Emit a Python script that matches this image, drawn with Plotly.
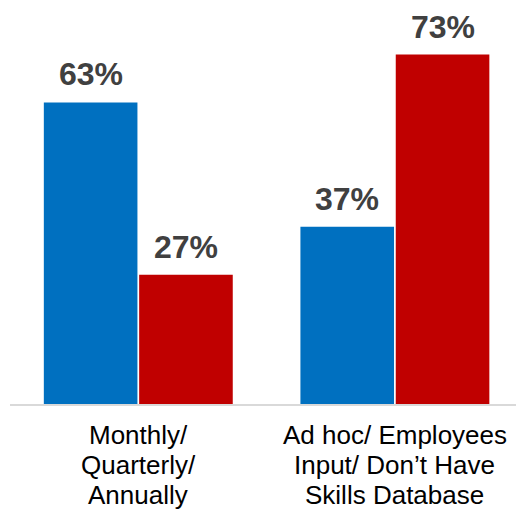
import plotly.graph_objects as go

# Survey results: how often the skills inventory is refreshed
category_lines = [
    ["Monthly/", "Quarterly/", "Annually"],
    ["Ad hoc/ Employees", "Input/ Don\u2019t Have", "Skills Database"],
]
categories = [" ".join(lines) for lines in category_lines]
series_a = [63, 37]   # blue series
series_b = [27, 73]   # red series

BLUE = "#0070C0"
RED = "#C00000"
FONT = "Arial, Liberation Sans, sans-serif"

fig = go.Figure()
fig.add_trace(go.Bar(x=categories, y=series_a, marker_color=BLUE,
                     marker_line_width=0, name="A"))
fig.add_trace(go.Bar(x=categories, y=series_b, marker_color=RED,
                     marker_line_width=0, name="B"))

# Value labels above each bar
offsets = [-0.186, 0.186]
for vals, off in zip([series_a, series_b], offsets):
    for i, v in enumerate(vals):
        fig.add_annotation(
            x=i + off, y=v, xref="x", yref="y",
            text=f"<b>{v}%</b>", showarrow=False,
            yanchor="bottom", yshift=8,
            font=dict(family=FONT, size=32, color="#404040"),
        )

# Category labels, one annotation per line for tight line spacing
line_step = 30
for i, lines in enumerate(category_lines):
    for j, line in enumerate(lines):
        fig.add_annotation(
            x=i, y=0, xref="x", yref="paper",
            text=line, showarrow=False, borderpad=0,
            xanchor="center", yanchor="middle",
            yshift=-(30.5 + j * line_step),
            font=dict(family=FONT, size=26, color="#000000"),
        )

fig.update_layout(
    width=516, height=509,
    margin=dict(l=10, r=0, t=21, b=105),
    paper_bgcolor="white", plot_bgcolor="white",
    barmode="group", bargap=0.257, bargroupgap=0.018,
    showlegend=False,
    font=dict(family=FONT),
)
fig.update_xaxes(
    range=[-0.5, 1.472],
    showline=True, linecolor="#d9d9d9", linewidth=2,
    showgrid=False, ticks="", showticklabels=False,
)
fig.update_yaxes(range=[0, 80], visible=False, showgrid=False)

fig.write_html("out.html")
